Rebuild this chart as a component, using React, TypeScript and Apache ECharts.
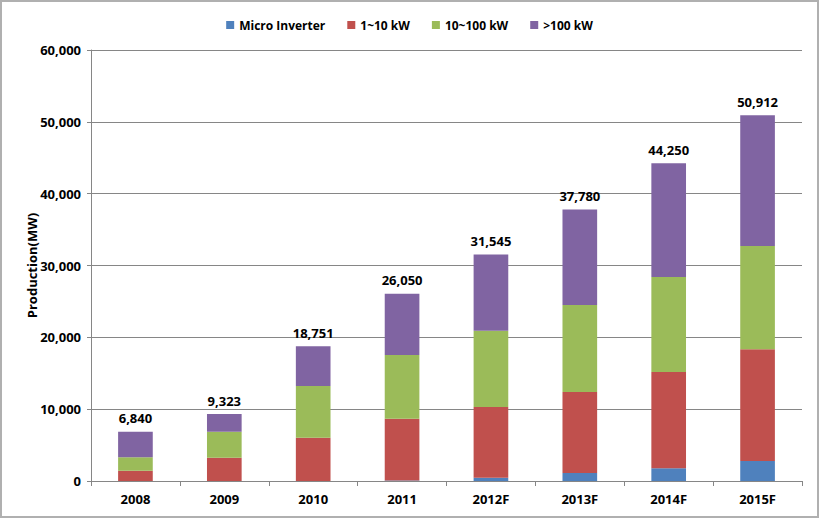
import React, { useEffect, useRef } from "react";
import * as echarts from "echarts";

const categories = ["2008", "2009", "2010", "2011", "2012F", "2013F", "2014F", "2015F"];
const microInverter = [0, 0, 0, 60, 450, 1100, 1770, 2790];
const kw1to10 = [1430, 3250, 6030, 8620, 9860, 11300, 13410, 15550];
const kw10to100 = [1870, 3620, 7200, 8870, 10590, 12100, 13220, 14390];
const kwOver100 = [3540, 2453, 5521, 8500, 10645, 13280, 15850, 18182];
const totals = [6840, 9323, 18751, 26050, 31545, 37780, 44250, 50912];
const yTicks = [0, 10000, 20000, 30000, 40000, 50000, 60000];

const FONT = "'Open Sans', sans-serif";

export default function App() {
  const ref = useRef<HTMLDivElement>(null);
  useEffect(() => {
    if (!ref.current) return;
    const chart = echarts.init(ref.current, null, { renderer: "svg" });
    const fmt = (v: number) => v.toLocaleString("en-US");
    const mk = (name: string, data: number[], color: string, top = false) => ({
      name,
      type: "bar",
      stack: "total",
      data,
      barWidth: "39%",
      itemStyle: { color },
      label: top
        ? {
            show: true,
            position: "top",
            distance: 7,
            formatter: (p: any) => fmt(totals[p.dataIndex]),
            color: "#000",
            fontWeight: "bold",
            fontSize: 13,
            fontFamily: FONT,
          }
        : { show: false },
    });
    chart.setOption({
      animation: false,
      backgroundColor: "#fff",
      textStyle: { fontFamily: FONT },
      legend: {
        top: 12,
        left: "center",
        itemWidth: 8,
        itemHeight: 8,
        itemGap: 22,
        icon: "rect",
        textStyle: { fontSize: 12, fontWeight: "bold", fontFamily: FONT, color: "#000" },
        data: ["Micro Inverter", "1~10 kW", "10~100 kW", ">100 kW"],
      },
      grid: { left: 89, right: 15, top: 48, bottom: 35 },
      xAxis: {
        type: "category",
        data: categories,
        axisLine: { lineStyle: { color: "#868686" } },
        axisTick: { show: true, length: 5, lineStyle: { color: "#868686" } },
        axisLabel: { color: "#000", fontWeight: "bold", fontSize: 13, margin: 11, fontFamily: FONT },
      },
      yAxis: {
        type: "value",
        min: 0,
        max: 60000,
        interval: 10000,
        name: "Production(MW)",
        nameLocation: "middle",
        nameGap: 53,
        nameRotate: 90,
        nameMoveOverlap: false,
        nameTextStyle: { color: "#000", fontWeight: "bold", fontSize: 13, fontFamily: FONT },
        axisLine: { show: true, lineStyle: { color: "#868686" } },
        axisTick: { show: true, length: 4, lineStyle: { color: "#868686" } },
        axisLabel: {
          color: "#000",
          fontWeight: "bold",
          fontSize: 13,
          margin: 10,
          fontFamily: FONT,
          formatter: (v: number) => (yTicks.includes(v) ? fmt(v) : ""),
        },
        splitLine: { lineStyle: { color: "#868686" } },
      },
      series: [
        mk("Micro Inverter", microInverter, "#4F81BD"),
        mk("1~10 kW", kw1to10, "#C0504D"),
        mk("10~100 kW", kw10to100, "#9BBB59"),
        mk(">100 kW", kwOver100, "#8064A2", true),
      ],
    });
    return () => chart.dispose();
  }, []);
  return (
    <div
      style={{
        position: "absolute",
        left: 0,
        top: 0,
        width: 819,
        height: 518,
        boxSizing: "border-box",
        border: "2px solid #b0b0b0",
        background: "#fff",
      }}
    >
      <div ref={ref} style={{ width: 815, height: 514 }} />
    </div>
  );
}
